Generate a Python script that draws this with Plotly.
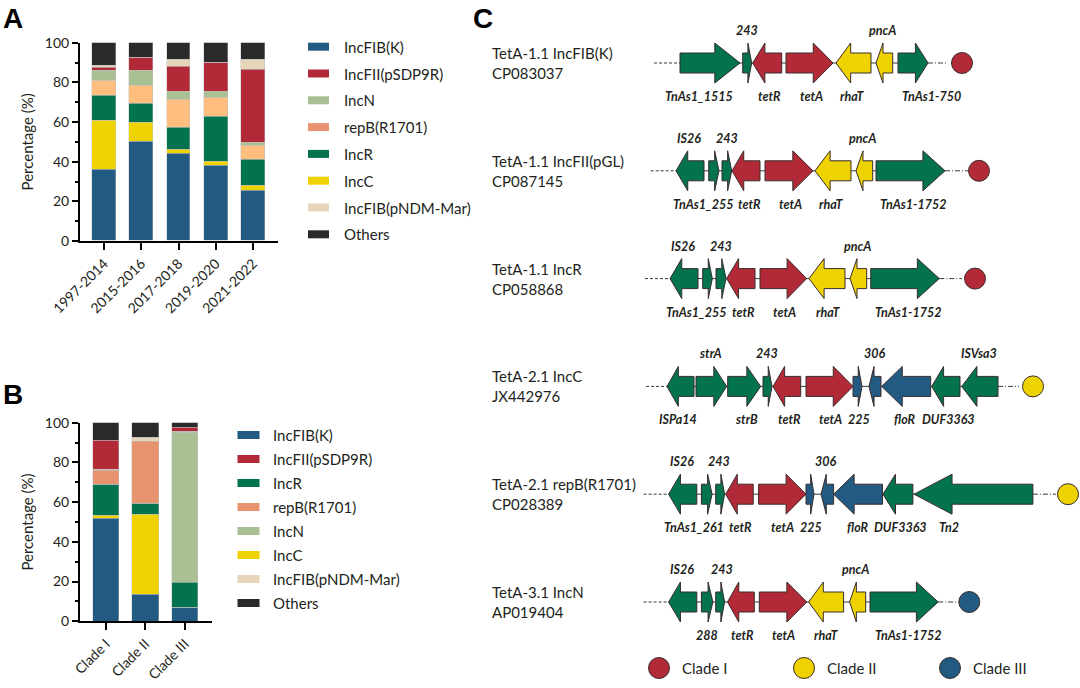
import plotly.graph_objects as go

W, H = 1080, 688
FONT = "Lato"
TXT = "#231F20"

# ---------------- Panel A data ----------------
YEARS = ["1997-2014", "2015-2016", "2017-2018", "2019-2020", "2021-2022"]
A_IncFIB_K = [36.0, 50.0, 44.2, 37.8, 25.5]
A_IncC = [24.7, 9.5, 1.7, 2.2, 2.2]
A_IncR = [12.6, 9.7, 11.4, 22.7, 13.3]
A_repB = [7.4, 9.0, 14.0, 9.6, 7.2]
A_IncN = [5.2, 7.7, 4.2, 2.8, 1.5]
A_IncFII = [1.3, 6.4, 12.4, 14.8, 36.5]
A_pNDM = [1.4, 0.0, 3.7, 0.0, 5.2]
A_Others = [11.4, 7.7, 8.4, 10.1, 8.6]

# ---------------- Panel B data ----------------
CLADES = ["Clade I", "Clade II", "Clade III"]
B_IncFIB_K = [51.7, 13.3, 6.9]
B_IncC = [1.5, 40.6, 0.0]
B_IncR = [15.4, 5.5, 12.6]
B_IncN = [0.0, 0.0, 75.6]
B_repB = [7.2, 31.2, 0.4]
B_pNDM = [0.6, 2.0, 0.0]
B_IncFII = [14.6, 0.0, 2.2]
B_Others = [9.0, 7.4, 2.3]

COLORS = {
    "IncFIB(K)": "#235A82",
    "IncFII(pSDP9R)": "#B22A38",
    "IncN": "#A9BF94",
    "repB(R1701)": "#E8936F",
    "IncR": "#03724F",
    "IncC": "#EFD300",
    "IncFIB(pNDM-Mar)": "#E6D5B9",
    "Others": "#2A2A2A",
}
A_REPB_BAR_COLOR = "#FEBE80"

LEGEND_A = ["IncFIB(K)", "IncFII(pSDP9R)", "IncN", "repB(R1701)", "IncR", "IncC",
            "IncFIB(pNDM-Mar)", "Others"]
LEGEND_B = ["IncFIB(K)", "IncFII(pSDP9R)", "IncR", "repB(R1701)", "IncN", "IncC",
            "IncFIB(pNDM-Mar)", "Others"]

STACK_A = [("IncFIB(K)", A_IncFIB_K), ("IncC", A_IncC), ("IncR", A_IncR),
           ("repB(R1701)", A_repB), ("IncN", A_IncN), ("IncFII(pSDP9R)", A_IncFII),
           ("IncFIB(pNDM-Mar)", A_pNDM), ("Others", A_Others)]
STACK_B = [("IncFIB(K)", B_IncFIB_K), ("IncC", B_IncC), ("IncR", B_IncR),
           ("IncN", B_IncN), ("repB(R1701)", B_repB), ("IncFIB(pNDM-Mar)", B_pNDM),
           ("IncFII(pSDP9R)", B_IncFII), ("Others", B_Others)]

# ---------------- Panel C data ----------------
LOCUS_TITLES = ["TetA-1.1 IncFIB(K)", "TetA-1.1 IncFII(pGL)", "TetA-1.1 IncR",
                "TetA-2.1 IncC", "TetA-2.1 repB(R1701)", "TetA-3.1 IncN"]
LOCUS_ACCESSIONS = ["CP083037", "CP087145", "CP058868", "JX442976", "CP028389", "AP019404"]
LOCUS_CLADE = ["Clade I", "Clade I", "Clade I", "Clade II", "Clade II", "Clade III"]
LOCUS_LEFT_END = [654, 650.7, 645, 646, 643.6, 643.6]
LOCUS_RIGHT_END = [947, 968, 962, 1019, 1056, 958.6]
LOCUS_MARK_X = [962, 979, 975, 1033, 1068, 969.3]

# (label, start, end, strand, family, label side, label x)
GENES_1 = [("TnAs1_1515", 680, 740, 1, "mob", "below", 699),
           ("243", 742.7, 751.7, 1, "mob", "above", 747),
           ("tetR", 752.7, 781.7, -1, "tet", "below", 769.5),
           ("tetA", 786, 833, 1, "tet", "below", 811),
           ("rhaT", 836, 871, -1, "rha", "below", 852),
           ("pncA", 876, 892.7, -1, "rha", "above", 882),
           ("TnAs1-750", 898, 928, 1, "mob", "below", 931)]
GENES_2 = [("IS26", 676, 704, -1, "mob", "above", 688.5),
           ("TnAs1_255", 708.7, 719, 1, "mob", "below", 702.5),
           ("243", 722, 731.7, 1, "mob", "above", 726.7),
           ("tetR", 732, 760, -1, "tet", "below", 749.5),
           ("tetA", 765, 813, 1, "tet", "below", 790),
           ("rhaT", 815, 851, -1, "rha", "below", 830.5),
           ("pncA", 856, 872.7, -1, "rha", "above", 862),
           ("TnAs1-1752", 876, 945, 1, "mob", "below", 913)]
GENES_3 = [("IS26", 670, 698, -1, "mob", "above", 683),
           ("TnAs1_255", 702.7, 712.3, 1, "mob", "below", 695.5),
           ("243", 716, 726, 1, "mob", "above", 721),
           ("tetR", 726.7, 755, -1, "tet", "below", 743),
           ("tetA", 760, 806.7, 1, "tet", "below", 784.5),
           ("rhaT", 809, 845, -1, "rha", "below", 827.5),
           ("pncA", 850, 866.7, -1, "rha", "above", 857),
           ("TnAs1-1752", 870.7, 939.3, 1, "mob", "below", 908)]
GENES_4 = [("ISPa14", 667, 694, -1, "mob", "below", 678),
           ("strA", 696, 726.7, 1, "mob", "above", 710.5),
           ("strB", 727.7, 760.7, 1, "mob", "below", 746),
           ("243", 763, 772, 1, "mob", "above", 767),
           ("tetR", 773, 800.7, -1, "tet", "below", 789),
           ("tetA", 806, 853, 1, "tet", "below", 830),
           ("225", 853, 862, 1, "flo", "below", 859),
           ("306", 869, 881, -1, "flo", "above", 875),
           ("floR", 881.7, 930.7, -1, "flo", "below", 905),
           ("DUF3363", 931.7, 960, -1, "mob", "below", 948.6),
           ("ISVsa3", 961.7, 998, -1, "mob", "above", 979)]
GENES_5 = [("IS26", 668.6, 696.8, -1, "mob", "above", 682),
           ("TnAs1_261", 701.4, 712.1, 1, "mob", "below", 694),
           ("243", 715.7, 724.6, 1, "mob", "above", 719),
           ("tetR", 725.7, 753.2, -1, "tet", "below", 740.7),
           ("tetA", 758.6, 806, 1, "tet", "below", 782),
           ("225", 806, 814, 1, "flo", "below", 811),
           ("306", 821, 833.6, -1, "flo", "above", 826),
           ("floR", 833.6, 882.5, -1, "flo", "below", 857.5),
           ("DUF3363", 882.9, 912.9, -1, "mob", "below", 900),
           ("Tn2", 914, 1032.9, -1, "mob", "below", 948.8)]
GENES_6 = [("IS26", 668.6, 696.8, -1, "mob", "above", 682),
           ("288", 701.4, 712.9, 1, "mob", "below", 707),
           ("243", 715.7, 724.6, 1, "mob", "above", 722),
           ("tetR", 727.5, 754.3, -1, "tet", "below", 742),
           ("tetA", 759.3, 806.8, 1, "tet", "below", 783.6),
           ("rhaT", 808.6, 843.6, -1, "rha", "below", 825.7),
           ("pncA", 849.6, 865.7, -1, "rha", "above", 855),
           ("TnAs1-1752", 870, 938.2, 1, "mob", "below", 907.7)]
LOCI_GENES = [GENES_1, GENES_2, GENES_3, GENES_4, GENES_5, GENES_6]

FAMILY_COLORS = {"mob": "#03724F", "tet": "#B22A38", "rha": "#EFD300", "flo": "#235A82"}
CLADE_NAMES = ["Clade I", "Clade II", "Clade III"]
CLADE_COLORS = {"Clade I": "#B22A38", "Clade II": "#EFD300", "Clade III": "#235A82"}
OUTLINE = "#3A2C2C"

def px(x):
    return x / W

def py(y):
    return 1 - y / H

fig = go.Figure()

for name, vals in STACK_A:
    col = A_REPB_BAR_COLOR if name == "repB(R1701)" else COLORS[name]
    fig.add_bar(x=YEARS, y=vals, name=name, marker_color=col, width=0.644,
                marker_line=dict(color="rgba(190,190,190,0.7)", width=0.6),
                xaxis="x", yaxis="y", showlegend=False)
for name, vals in STACK_B:
    fig.add_bar(x=CLADES, y=vals, name=name, marker_color=COLORS[name], width=0.68,
                marker_line=dict(color="rgba(190,190,190,0.7)", width=0.6),
                xaxis="x2", yaxis="y2", showlegend=False)

ROW_PX = 107.8
ROW0_PX = 63.0
BODY = 10.0 / ROW_PX
HEAD = 20.0 / ROW_PX

def arrow(s, e, strand, yc):
    L = e - s
    h = 0.42 * L if L < 62 else 0.32 * L
    if strand > 0:
        xs = [s, e - h, e - h, e, e - h, e - h, s, s]
    else:
        xs = [e, s + h, s + h, s, s + h, s + h, e, e]
    ys = [yc - BODY, yc - BODY, yc - HEAD, yc, yc + HEAD, yc + BODY, yc + BODY, yc - BODY]
    return xs, ys

annotations = []
for r, genes in enumerate(LOCI_GENES):
    yc = r
    first = min(g[1] for g in genes)
    last = max(g[2] for g in genes)
    fig.add_scatter(x=[LOCUS_LEFT_END[r], first], y=[yc, yc], mode="lines",
                    line=dict(color="#3A3A3A", width=1, dash="3px,2px"),
                    xaxis="x3", yaxis="y3", showlegend=False, hoverinfo="skip")
    fig.add_scatter(x=[first, last], y=[yc, yc], mode="lines",
                    line=dict(color="#3A3A3A", width=1),
                    xaxis="x3", yaxis="y3", showlegend=False, hoverinfo="skip")
    fig.add_scatter(x=[last, LOCUS_RIGHT_END[r]], y=[yc, yc], mode="lines",
                    line=dict(color="#3A3A3A", width=1, dash="5px,2px,1px,2px"),
                    xaxis="x3", yaxis="y3", showlegend=False, hoverinfo="skip")
    for fam, col in FAMILY_COLORS.items():
        xs_all, ys_all = [], []
        for (lab, s, e, strand, f, side, lx) in genes:
            if f != fam:
                continue
            xs, ys = arrow(s, e, strand, yc)
            xs_all += xs + [None]
            ys_all += ys + [None]
        if xs_all:
            fig.add_scatter(x=xs_all, y=ys_all, mode="lines", fill="toself",
                            fillcolor=col, line=dict(color=OUTLINE, width=1),
                            xaxis="x3", yaxis="y3", showlegend=False, hoverinfo="skip")
    fig.add_scatter(x=[LOCUS_MARK_X[r]], y=[yc], mode="markers", cliponaxis=False,
                    marker=dict(size=21, color=CLADE_COLORS[LOCUS_CLADE[r]],
                                line=dict(color=OUTLINE, width=1)),
                    xaxis="x3", yaxis="y3", showlegend=False, hoverinfo="skip")
    for (lab, s, e, strand, f, side, lx) in genes:
        dy = -32.5 / ROW_PX if side == "above" else 33.5 / ROW_PX
        annotations.append(dict(x=lx, y=yc + dy, xref="x3", yref="y3",
                                text="<b><i>%s</i></b>" % lab, showarrow=False,
                                font=dict(family=FONT, size=12.5, color=TXT),
                                xanchor="center", yanchor="middle"))
    annotations.append(dict(x=490, y=yc - 10 / ROW_PX, xref="x3", yref="y3",
                            text=LOCUS_TITLES[r], showarrow=False,
                            font=dict(family=FONT, size=15, color=TXT),
                            xanchor="left", yanchor="middle"))
    annotations.append(dict(x=490, y=yc + 10 / ROW_PX, xref="x3", yref="y3",
                            text=LOCUS_ACCESSIONS[r], showarrow=False,
                            font=dict(family=FONT, size=15, color=TXT),
                            xanchor="left", yanchor="middle"))

CLADE_LEG_X = [659, 804, 950]
leg_row = (668 - ROW0_PX) / ROW_PX
fig.add_scatter(x=CLADE_LEG_X, y=[leg_row] * 3, mode="markers", cliponaxis=False,
                marker=dict(size=21, color=[CLADE_COLORS[c] for c in CLADE_NAMES],
                            line=dict(color=OUTLINE, width=1)),
                xaxis="x3", yaxis="y3", showlegend=False, hoverinfo="skip")
for cx, cn in zip(CLADE_LEG_X, CLADE_NAMES):
    annotations.append(dict(x=cx + 21, y=leg_row, xref="x3", yref="y3", text=cn,
                            showarrow=False, font=dict(family=FONT, size=15, color=TXT),
                            xanchor="left", yanchor="middle"))

shapes = []
for i, name in enumerate(LEGEND_A):
    yc = 46.7 + 26.8 * i
    shapes.append(dict(type="rect", xref="paper", yref="paper", x0=px(308), x1=px(329),
                       y0=py(yc + 4), y1=py(yc - 4), fillcolor=COLORS[name], line_width=0))
    annotations.append(dict(x=px(341.5), y=py(yc), xref="paper", yref="paper", text=name,
                            showarrow=False, font=dict(family=FONT, size=15, color=TXT),
                            xanchor="left", yanchor="middle"))
for i, name in enumerate(LEGEND_B):
    yc = 435 + 24 * i
    shapes.append(dict(type="rect", xref="paper", yref="paper", x0=px(237.5), x1=px(259.5),
                       y0=py(yc + 4), y1=py(yc - 4), fillcolor=COLORS[name], line_width=0))
    annotations.append(dict(x=px(271), y=py(yc), xref="paper", yref="paper", text=name,
                            showarrow=False, font=dict(family=FONT, size=15, color=TXT),
                            xanchor="left", yanchor="middle"))

for letter, lx, ly in [("A", 1, 1), ("B", 1, 377), ("C", 471, 1)]:
    annotations.append(dict(x=px(lx), y=py(ly), xref="paper", yref="paper",
                            text="<b>%s</b>" % letter, showarrow=False,
                            font=dict(family="Liberation Sans", size=28, color="#000"),
                            xanchor="left", yanchor="top"))

axis_common = dict(showline=True, linecolor="#000", linewidth=2, ticks="outside",
                   tickwidth=2, tickcolor="#000", showgrid=False, zeroline=False,
                   automargin=False,
                   tickfont=dict(family=FONT, size=14, color=TXT))

yax = dict(axis_common, range=[0, 100], tickvals=[0, 20, 40, 60, 80, 100], ticklen=6,
           minor=dict(tickvals=[10, 30, 50, 70, 90], ticklen=3.5, tickwidth=2,
                      tickcolor="#000", ticks="outside"),
           title=dict(text="Percentage (%)", font=dict(family=FONT, size=15, color=TXT),
                      standoff=8))

fig.update_layout(
    template="none",
    width=W, height=H, margin=dict(l=0, r=0, t=0, b=0, pad=0),
    paper_bgcolor="white", plot_bgcolor="rgba(0,0,0,0)",
    barmode="stack", bargap=0,
    xaxis=dict(axis_common, domain=[px(80), px(278)], range=[-0.644, 4.671],
               tickangle=-45, ticklen=7, anchor="y"),
    yaxis=dict(yax, domain=[py(241), py(42.7)], anchor="x"),
    xaxis2=dict(axis_common, domain=[px(80), px(212)], range=[-0.658, 2.684],
                tickangle=-45, ticklen=7, anchor="y2"),
    yaxis2=dict(yax, domain=[py(621.3), py(422.7)], anchor="x2"),
    xaxis3=dict(domain=[px(440), 1], range=[440, 1080], visible=False, anchor="y3",
                automargin=False),
    yaxis3=dict(domain=[0, 1], range=[(H - ROW0_PX) / ROW_PX, -ROW0_PX / ROW_PX],
                visible=False, anchor="x3", automargin=False),
    shapes=shapes, annotations=annotations, showlegend=False,
    font=dict(family=FONT, color=TXT),
)

# remove the browser's default 8 px page margin so the figure fills the window exactly
fig.write_html("out.html",
               config={"displayModeBar": False},
               post_script="document.body.style.margin='0';"
                           "document.body.style.overflow='hidden';")
